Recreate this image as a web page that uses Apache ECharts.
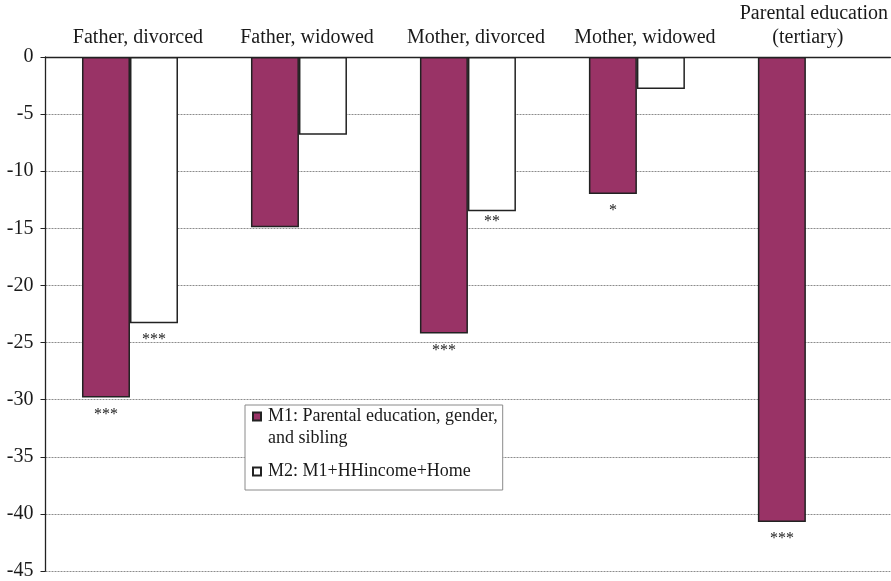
<!DOCTYPE html>
<html>
<head>
<meta charset="utf-8">
<title>Bar chart</title>
<script src="https://cdn.jsdelivr.net/npm/echarts@6/dist/echarts.min.js"></script>
<style>
  html, body { margin: 0; padding: 0; background: #ffffff; }
  #chart { width: 891px; height: 581px; }
</style>
</head>
<body>
<div id="chart"></div>
<script>
// Categories shown along the top axis
const categories = [
  'Father, divorced',
  'Father, widowed',
  'Mother, divorced',
  'Mother, widowed',
  'Parental education\n(tertiary)'
];

// Series values
const m1Values = [-29.8, -14.9, -24.2, -12.0, -40.7];
const m2Values = [-23.3, -6.8, -13.5, -2.8, null];

// Significance markers under each bar
const m1Stars = ['***', '', '***', '*', '***'];
const m2Stars = ['***', '', '**', '', ''];

// Series names
const m1Name = 'M1: Parental education, gender, and sibling';
const m2Name = 'M2: M1+HHincome+Home';

// Value axis range
const yMin = -45;
const yMax = 0;
const yStep = 5;

const serif = '"Liberation Serif", "Times New Roman", serif';
const textColor = '#1a1a1a';

function withStars(values, stars, tightIndex) {
  return values.map(function (v, i) {
    const item = {
      value: v,
      label: { show: !!stars[i], formatter: stars[i] }
    };
    if (i === tightIndex) item.label.distance = 3;
    return item;
  });
}

const barLabel = {
  position: 'bottom',
  distance: 9,
  fontFamily: serif,
  fontSize: 16,
  color: textColor
};

const chart = echarts.init(document.getElementById('chart'), null, { renderer: 'canvas' });

chart.setOption({
  animation: false,
  backgroundColor: '#ffffff',
  grid: { left: 45.5, right: 0.5, top: 57, bottom: 9.3, containLabel: false },
  legend: {
    orient: 'vertical',
    left: 245,
    top: 405,
    padding: [1, 5, 8, 7],
    itemGap: 34,
    itemWidth: 8,
    itemHeight: 8,
    borderColor: '#8a8a8a',
    borderWidth: 1,
    backgroundColor: '#ffffff',
    selectedMode: false,
    icon: 'rect',
    data: [m1Name, m2Name],
    formatter: function (name) {
      return name === m1Name ? 'M1: Parental education, gender,' : name;
    },
    textStyle: {
      fontFamily: serif,
      fontSize: 18,
      lineHeight: 21,
      color: textColor,
      padding: [0, 0, 0, 2]
    }
  },
  graphic: [{
    type: 'text',
    left: 268,
    top: 429,
    z: 100,
    style: {
      text: 'and sibling',
      fontFamily: serif,
      fontSize: 18,
      fill: textColor
    }
  }],
  xAxis: {
    type: 'category',
    position: 'top',
    data: categories,
    axisLine: { onZero: false, lineStyle: { color: '#222', width: 1.3 } },
    axisTick: { show: false },
    axisLabel: {
      margin: 7,
      interval: 0,
      padding: [0, 0, 0, 16],
      formatter: function (value) {
        return value.split('\n').map(function (line, i) {
          return (i === 0 ? '{a|' : '{b|') + line + '}';
        }).join('\n');
      },
      rich: {
        a: { fontFamily: serif, fontSize: 20, lineHeight: 24, color: textColor },
        b: { fontFamily: serif, fontSize: 20, lineHeight: 24, color: textColor, padding: [0, 12, 0, 0] }
      }
    },
    splitLine: { show: false }
  },
  yAxis: {
    type: 'value',
    min: yMin,
    max: yMax,
    interval: yStep,
    axisLine: { show: true, lineStyle: { color: '#222', width: 1.3 } },
    axisTick: { show: true, inside: false, length: 5, lineStyle: { color: '#222', width: 1 } },
    axisLabel: {
      margin: 12,
      fontFamily: serif,
      fontSize: 20,
      color: textColor
    },
    splitLine: {
      show: true,
      lineStyle: { color: '#8c8c8c', width: 1, type: [2, 1] }
    }
  },
  series: [
    {
      name: m1Name,
      type: 'bar',
      barWidth: 48,
      barGap: '0%',
      data: withStars(m1Values, m1Stars, -1),
      itemStyle: { color: '#993366', borderColor: '#222', borderWidth: 1.5 },
      label: barLabel
    },
    {
      name: m2Name,
      type: 'bar',
      barWidth: 48,
      barGap: '0%',
      data: withStars(m2Values, m2Stars, 2),
      itemStyle: { color: '#ffffff', borderColor: '#222', borderWidth: 1.5 },
      label: barLabel
    }
  ]
});
</script>
</body>
</html>
